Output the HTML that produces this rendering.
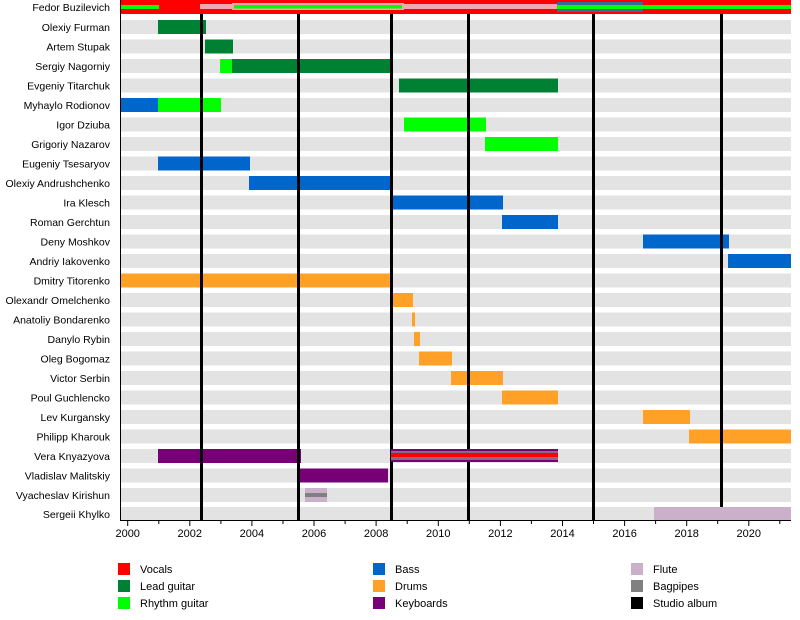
<!DOCTYPE html>
<html><head><meta charset="utf-8"><style>
body{margin:0;background:#fff;}
svg{display:block;font-family:"Liberation Sans",sans-serif;}
</style></head><body>
<svg width="800" height="620" viewBox="0 0 800 620" xmlns="http://www.w3.org/2000/svg">
<g fill="#e3e3e3">
<rect x="121" y="20" width="670" height="14"/><rect x="121" y="39.5" width="670" height="14"/><rect x="121" y="59" width="670" height="14"/><rect x="121" y="78.5" width="670" height="14"/><rect x="121" y="98" width="670" height="14"/><rect x="121" y="117.5" width="670" height="14"/><rect x="121" y="137" width="670" height="14"/><rect x="121" y="156.5" width="670" height="14"/><rect x="121" y="176" width="670" height="14"/><rect x="121" y="195.5" width="670" height="14"/><rect x="121" y="215" width="670" height="14"/><rect x="121" y="234.5" width="670" height="14"/><rect x="121" y="254" width="670" height="14"/><rect x="121" y="273.5" width="670" height="14"/><rect x="121" y="293" width="670" height="14"/><rect x="121" y="312.5" width="670" height="14"/><rect x="121" y="332" width="670" height="14"/><rect x="121" y="351.5" width="670" height="14"/><rect x="121" y="371" width="670" height="14"/><rect x="121" y="390.5" width="670" height="14"/><rect x="121" y="410" width="670" height="14"/><rect x="121" y="429.5" width="670" height="14"/><rect x="121" y="449" width="670" height="14"/><rect x="121" y="468.5" width="670" height="14"/><rect x="121" y="488" width="670" height="14"/><rect x="121" y="507" width="670" height="13"/>
</g>
<rect x="121" y="0" width="670" height="14" fill="#ff0000"/>
<rect x="121" y="5" width="38" height="4" fill="#00ff00"/>
<rect x="200" y="4" width="357" height="5" fill="#f4a6b4"/>
<rect x="232" y="3" width="172" height="7" fill="#f4a6b4"/>
<rect x="234" y="5" width="168" height="3.5" fill="#00ff00"/>
<rect x="557" y="2" width="86" height="10" fill="#3a6a9a"/>
<rect x="557" y="5" width="234" height="4" fill="#00ff00"/>
<g>
<rect x="158" y="20" width="48" height="14" fill="#008033"/>
<rect x="205" y="39.5" width="28" height="14" fill="#008033"/>
<rect x="220" y="59" width="12" height="14" fill="#00ff00"/>
<rect x="232" y="59" width="160" height="14" fill="#008033"/>
<rect x="399" y="78.5" width="159" height="14" fill="#008033"/>
<rect x="121" y="98" width="37" height="14" fill="#0066cc"/>
<rect x="158" y="98" width="63" height="14" fill="#00ff00"/>
<rect x="404" y="117.5" width="82" height="14" fill="#00ff00"/>
<rect x="485" y="137" width="73" height="14" fill="#00ff00"/>
<rect x="158" y="156.5" width="92" height="14" fill="#0066cc"/>
<rect x="249" y="176" width="143" height="14" fill="#0066cc"/>
<rect x="391" y="195.5" width="112" height="14" fill="#0066cc"/>
<rect x="502" y="215" width="56" height="14" fill="#0066cc"/>
<rect x="643" y="234.5" width="86" height="14" fill="#0066cc"/>
<rect x="728" y="254" width="63" height="14" fill="#0066cc"/>
<rect x="121" y="273.5" width="271" height="14" fill="#ffa126"/>
<rect x="391" y="293" width="22" height="14" fill="#ffa126"/>
<rect x="412" y="312.5" width="3" height="14" fill="#ffa126"/>
<rect x="414" y="332" width="6" height="14" fill="#ffa126"/>
<rect x="419" y="351.5" width="33" height="14" fill="#ffa126"/>
<rect x="451" y="371" width="52" height="14" fill="#ffa126"/>
<rect x="502" y="390.5" width="56" height="14" fill="#ffa126"/>
<rect x="643" y="410" width="47" height="14" fill="#ffa126"/>
<rect x="689" y="429.5" width="102" height="14" fill="#ffa126"/>
<rect x="158" y="449" width="143" height="14" fill="#770077"/>
<rect x="299" y="468.5" width="89" height="14" fill="#770077"/>
</g>
<g fill="#000">
<rect x="200" y="14" width="3" height="506"/><rect x="297" y="14" width="3" height="506"/><rect x="390" y="14" width="3" height="506"/><rect x="467" y="14" width="3" height="506"/><rect x="592" y="14" width="3" height="506"/><rect x="720" y="14" width="3" height="493"/>
</g>
<rect x="391" y="449" width="167" height="13" fill="#770077"/>
<rect x="391" y="451" width="167" height="9" fill="#8a6a80"/>
<rect x="391" y="453" width="167" height="4" fill="#ff0000"/>
<rect x="305" y="488" width="22" height="14" fill="#cbb0cb"/>
<rect x="305" y="493" width="22" height="4" fill="#808080"/>
<rect x="654" y="507" width="137" height="13" fill="#cbb0cb"/>
<line x1="120.5" y1="0" x2="120.5" y2="521" stroke="#000" stroke-width="1"/>
<line x1="120" y1="520.5" x2="791" y2="520.5" stroke="#000" stroke-width="1"/>
<g stroke="#000" stroke-width="1">
<line x1="127.7" y1="521" x2="127.7" y2="526"/><line x1="158.8" y1="521" x2="158.8" y2="524"/><line x1="189.8" y1="521" x2="189.8" y2="526"/><line x1="220.9" y1="521" x2="220.9" y2="524"/><line x1="251.9" y1="521" x2="251.9" y2="526"/><line x1="283" y1="521" x2="283" y2="524"/><line x1="314" y1="521" x2="314" y2="526"/><line x1="345.1" y1="521" x2="345.1" y2="524"/><line x1="376.1" y1="521" x2="376.1" y2="526"/><line x1="407.2" y1="521" x2="407.2" y2="524"/><line x1="438.3" y1="521" x2="438.3" y2="526"/><line x1="469.3" y1="521" x2="469.3" y2="524"/><line x1="500.4" y1="521" x2="500.4" y2="526"/><line x1="531.4" y1="521" x2="531.4" y2="524"/><line x1="562.5" y1="521" x2="562.5" y2="526"/><line x1="593.5" y1="521" x2="593.5" y2="524"/><line x1="624.6" y1="521" x2="624.6" y2="526"/><line x1="655.6" y1="521" x2="655.6" y2="524"/><line x1="686.7" y1="521" x2="686.7" y2="526"/><line x1="717.7" y1="521" x2="717.7" y2="524"/><line x1="748.8" y1="521" x2="748.8" y2="526"/><line x1="779.8" y1="521" x2="779.8" y2="524"/>
</g>
<g font-size="11" text-anchor="middle" fill="#000">
<text x="127.7" y="537">2000</text><text x="189.8" y="537">2002</text><text x="251.9" y="537">2004</text><text x="314" y="537">2006</text><text x="376.1" y="537">2008</text><text x="438.3" y="537">2010</text><text x="500.4" y="537">2012</text><text x="562.5" y="537">2014</text><text x="624.6" y="537">2016</text><text x="686.7" y="537">2018</text><text x="748.8" y="537">2020</text>
</g>
<g font-size="10.5" text-anchor="end" fill="#000">
<text x="110" y="11">Fedor Buzilevich</text><text x="110" y="31">Olexiy Furman</text><text x="110" y="50.5">Artem Stupak</text><text x="110" y="70">Sergiy Nagorniy</text><text x="110" y="89.5">Evgeniy Titarchuk</text><text x="110" y="109">Myhaylo Rodionov</text><text x="110" y="128.5">Igor Dziuba</text><text x="110" y="148">Grigoriy Nazarov</text><text x="110" y="167.5">Eugeniy Tsesaryov</text><text x="110" y="187">Olexiy Andrushchenko</text><text x="110" y="206.5">Ira Klesch</text><text x="110" y="226">Roman Gerchtun</text><text x="110" y="245.5">Deny Moshkov</text><text x="110" y="265">Andriy Iakovenko</text><text x="110" y="284.5">Dmitry Titorenko</text><text x="110" y="304">Olexandr Omelchenko</text><text x="110" y="323.5">Anatoliy Bondarenko</text><text x="110" y="343">Danylo Rybin</text><text x="110" y="362.5">Oleg Bogomaz</text><text x="110" y="382">Victor Serbin</text><text x="110" y="401.5">Poul Guchlencko</text><text x="110" y="421">Lev Kurgansky</text><text x="110" y="440.5">Philipp Kharouk</text><text x="110" y="460">Vera Knyazyova</text><text x="110" y="479.5">Vladislav Malitskiy</text><text x="110" y="499">Vyacheslav Kirishun</text><text x="110" y="518">Sergeii Khylko</text>
</g>
<rect x="118" y="563" width="12" height="12" fill="#ff0000"/><rect x="118" y="580" width="12" height="12" fill="#008033"/><rect x="118" y="597" width="12" height="12" fill="#00ff00"/>
<rect x="373" y="563" width="12" height="12" fill="#0066cc"/><rect x="373" y="580" width="12" height="12" fill="#ffa126"/><rect x="373" y="597" width="12" height="12" fill="#770077"/>
<rect x="631" y="563" width="12" height="12" fill="#cbb0cb"/><rect x="631" y="580" width="12" height="12" fill="#808080"/><rect x="631" y="597" width="12" height="12" fill="#000"/>
<g font-size="11" fill="#000">
<text x="140" y="573">Vocals</text><text x="140" y="590">Lead guitar</text><text x="140" y="607">Rhythm guitar</text>
<text x="395" y="573">Bass</text><text x="395" y="590">Drums</text><text x="395" y="607">Keyboards</text>
<text x="653" y="573">Flute</text><text x="653" y="590">Bagpipes</text><text x="653" y="607">Studio album</text>
</g>
</svg>
</body></html>
